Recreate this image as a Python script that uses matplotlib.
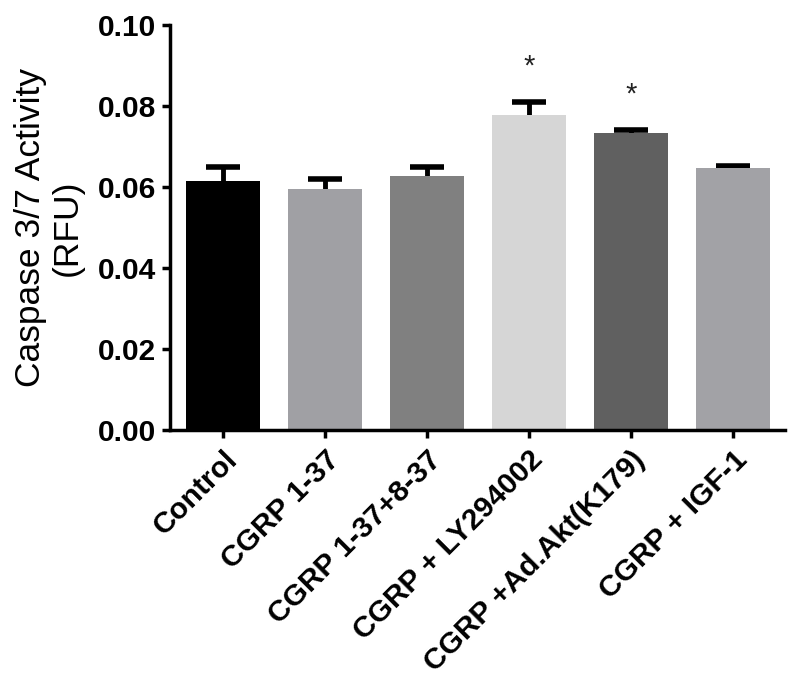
import matplotlib
matplotlib.use("Agg")
import matplotlib.pyplot as plt

categories = ["Control", "CGRP 1-37", "CGRP 1-37+8-37", "CGRP + LY294002",
              "CGRP +Ad.Akt(K179)", "CGRP + IGF-1"]
means = [0.0615, 0.0595, 0.0627, 0.0779, 0.0733, 0.0646]
errors = [0.0034, 0.0025, 0.0023, 0.0030, 0.0007, 0.0007]
colors = ["#000000", "#a0a0a4", "#808080", "#d6d6d6", "#606060", "#a2a2a6"]
significant = [False, False, False, True, True, False]
yticks = [0.00, 0.02, 0.04, 0.06, 0.08, 0.10]

plt.rcParams['font.family'] = ['Liberation Sans', 'DejaVu Sans']

fig = plt.figure(figsize=(8, 6.83), dpi=100)
ax = fig.add_axes([0.2125, 0.3704, 0.7685, 0.593])

x = list(range(len(categories)))
ax.bar(x, means, width=0.72, color=colors, zorder=2)
# symmetric error bars drawn behind bars so only the upper half shows
ax.errorbar(x, means, yerr=errors, fmt='none',
            ecolor='black', elinewidth=3.5, capsize=12, capthick=4, zorder=1)

for xi, m, e, s in zip(x, means, errors, significant):
    if s:
        ax.text(xi, m + e + 0.0088, "*", ha='center', va='center',
                fontsize=21, color='#222222')

ax.set_xlim(-0.52, 5.51)
ax.set_ylim(0, 0.10)
ax.set_yticks(yticks)
ax.set_yticklabels([f"{v:.2f}" for v in yticks], fontsize=21.5, fontweight='bold')
ax.set_xticks(x)
ax.set_xticklabels(categories, rotation=45, ha='right', rotation_mode='anchor',
                   fontsize=21.5, fontweight='bold')
ax.set_ylabel("Caspase 3/7 Activity\n(RFU)", fontsize=25.5, linespacing=1.15, labelpad=10)

for side in ['top', 'right']:
    ax.spines[side].set_visible(False)
for side in ['left', 'bottom']:
    ax.spines[side].set_linewidth(2.5)
ax.tick_params(axis='both', width=2.5, length=6, color='black')
ax.tick_params(axis='y', pad=4)
ax.tick_params(axis='x', pad=5)

fig.savefig("out.png", dpi=100)
